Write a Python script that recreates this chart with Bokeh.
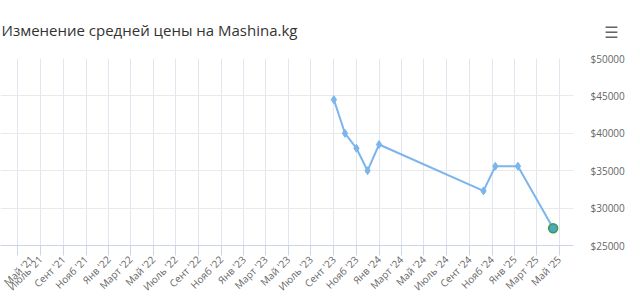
import math
import pandas as pd
from bokeh.plotting import figure
from bokeh.models import FixedTicker, PrintfTickFormatter, Range1d, Title
from bokeh.embed import file_html
from bokeh.resources import INLINE

# ---- data ----
title_text = "Изменение средней цены на Mashina.kg"
dates = ["2023-09-01", "2023-10-01", "2023-11-01", "2023-12-01", "2024-01-01",
         "2024-10-09", "2024-11-10", "2025-01-10", "2025-04-15"]
prices = [44500, 40000, 38000, 35000, 38500, 32300, 35600, 35600, 27300]

month_names = ["Янв", "Март", "Май", "Июль", "Сент", "Нояб"]
tick_months = [1, 3, 5, 7, 9, 11]
tick_years = [2021, 2022, 2023, 2024, 2025]
y_ticks = [25000, 30000, 35000, 40000, 45000, 50000]
x_start, x_end = "2021-03-15", "2025-06-09"

# ---- derived ----
x = pd.to_datetime(dates)
tick_ts, tick_lbl = [], []
for yr in tick_years:
    for m, name in zip(tick_months, month_names):
        t = pd.Timestamp(year=yr, month=m, day=1)
        ms = t.value / 1e6
        tick_ts.append(ms)
        tick_lbl.append(f"{name} '{str(yr)[2:]}")

FONT = "Open Sans"

p = figure(width=640, height=301, output_backend="svg", toolbar_location=None,
           x_axis_type="datetime", y_axis_location="right",
           x_range=Range1d(pd.Timestamp(x_start), pd.Timestamp(x_end)),
           y_range=Range1d(y_ticks[0], y_ticks[-1]),
           min_border_left=0, min_border_right=67, min_border_top=58, min_border_bottom=53)
p.outline_line_color = None
p.background_fill_color = "white"
p.border_fill_color = "white"

# menu icon row (closest to the frame)
menu = Title(text="☰", align="right", vertical_align="middle", offset=-45, standoff=32,
             text_font="DejaVu Sans", text_font_size="16px", text_font_style="bold",
             text_color="#666666")
p.add_layout(menu, "above")

p.title.text = title_text
p.title.text_font = FONT
p.title.text_font_size = "15px"
p.title.text_font_style = "normal"
p.title.text_color = "#333333"
p.title.align = "left"
p.title.vertical_align = "bottom"
p.title.offset = 1
p.title.standoff = -68

# x axis
p.xaxis.ticker = FixedTicker(ticks=tick_ts)
p.xaxis.major_label_overrides = {t: l for t, l in zip(tick_ts, tick_lbl)}
p.xaxis.major_label_orientation = math.pi / 4
p.xaxis.major_label_text_font = FONT
p.xaxis.major_label_text_font_size = "10px"
p.xaxis.major_label_text_color = "#666666"
p.xaxis.axis_line_color = "#ccd6eb"
p.xaxis.major_tick_line_color = "#ccd6eb"
p.xaxis.major_tick_out = 10
p.xaxis.major_tick_in = 0
p.xaxis.minor_tick_line_color = None
p.xaxis.major_label_standoff = 2

# y axis
p.yaxis.ticker = FixedTicker(ticks=y_ticks)
p.yaxis.formatter = PrintfTickFormatter(format="$%d")
p.yaxis.axis_line_color = None
p.yaxis.major_tick_line_color = None
p.yaxis.minor_tick_line_color = None
p.yaxis.major_label_standoff = 11
p.yaxis.major_label_text_font = FONT
p.yaxis.major_label_text_font_size = "10px"
p.yaxis.major_label_text_color = "#666666"

p.xgrid.grid_line_color = "#e2e6f0"
p.ygrid.grid_line_color = "#e9e9e9"

p.line(x, prices, line_color="#7cb5ec", line_width=2)
p.scatter(x[:-1], prices[:-1], marker="diamond", size=8, fill_color="#7cb5ec",
          line_color="#7cb5ec")
p.scatter(x[-1:], prices[-1:], marker="circle", size=9, fill_color="#4fa6bf",
          line_color="#3a9a4a", line_width=1.5)

open("out.html", "w").write(file_html(p, INLINE))
